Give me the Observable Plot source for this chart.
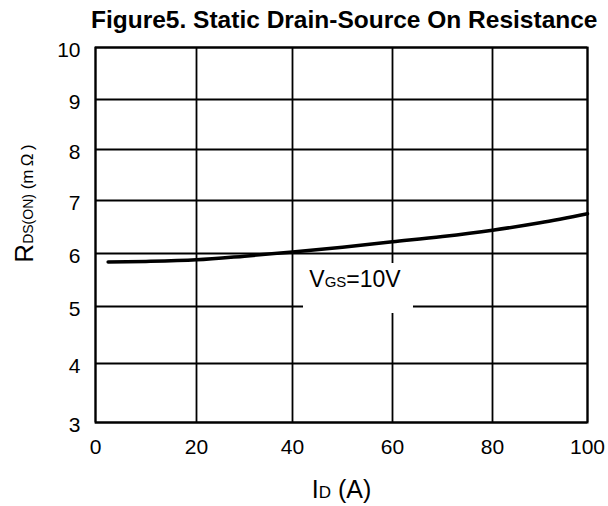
<!DOCTYPE html>
<html><head><meta charset="utf-8">
<script src="https://cdn.jsdelivr.net/npm/d3@7"></script>
<script src="https://cdn.jsdelivr.net/npm/@observablehq/plot@0.6"></script>
<style>body{margin:0;background:#fff;} svg{display:block}</style>
</head><body><div id="chart"></div>
<script>
// ---- data ----
const title = "Figure5. Static Drain-Source On Resistance";
const currentA = [2.5, 10, 20, 30, 40, 50, 60, 70, 80, 90, 100];
const resistanceMOhm = [5.84, 5.85, 5.88, 5.95, 6.03, 6.12, 6.22, 6.32, 6.44, 6.58, 6.75];
const xTicks = [0, 20, 40, 60, 80, 100];
const yTicks = [3, 4, 5, 6, 7, 8, 9, 10];
const xLabelParts = [["I", "main"], ["D", "sub"], [" (A)", "main"]];
const yLabelParts = [["R", "big"], ["DS(ON)", "sub"], [" (m\u2009Ω\u2009)", "unit"]];
const seriesLabelParts = [["V", "main"], ["GS", "sub"], ["=10V", "main"]];
const seriesLabelAt = [{x: 52.5, y: 5.5}];

// ---- styling / layout: the scanned grid is slightly uneven (pixel positions of the grid lines) ----
const xGridPx = [95, 196, 292, 392, 492, 587];
const yGridPx = [422, 363, 306, 253, 200, 149, 99, 47];
const font = "'Liberation Sans', Arial, Helvetica, sans-serif";
const xWarp = d3.scaleLinear().domain(xTicks).range(xGridPx.map(p => (p - 95) / 492 * 100));
const yWarp = d3.scaleLinear().domain(yTicks).range(yGridPx.map(p => 3 + (422 - p) / 375 * 7));

const key = parts => parts.map(p => p[0]).join("");
const xKey = key(xLabelParts), yKey = key(yLabelParts), sKey = key(seriesLabelParts);
const curve = currentA.map((x, i) => ({x, y: resistanceMOhm[i]}));
// white label box (the scan blanks the grid behind the label), built from square symbols offset in pixels
const box = dx => Plot.dot(seriesLabelAt, {x: "x", y: "y", symbol: "square", r: 28.2, fill: "white", stroke: null, dx, dy: 8});

const plot = Plot.plot({
  width: 608, height: 506,
  marginTop: 47, marginBottom: 84, marginLeft: 95, marginRight: 21,
  style: {fontFamily: font, fontSize: "21px", color: "black", background: "white", overflow: "visible"},
  x: {domain: [0, 100], transform: xWarp},
  y: {domain: [3, 10], transform: yWarp},
  marks: [
    Plot.gridX(xTicks, {stroke: "black", strokeOpacity: 1, strokeWidth: 1.8}),
    Plot.gridY(yTicks, {stroke: "black", strokeOpacity: 1, strokeWidth: 1.8}),
    Plot.frame({stroke: "black", strokeWidth: 2}),
    Plot.axisX(xTicks, {tickSize: 0, tickPadding: 17, fontSize: 21, label: null, tickFormat: d => String(d)}),
    Plot.axisY(yTicks, {tickSize: 0, tickPadding: 15, fontSize: 21, dy: 3, label: null, tickFormat: d => String(d)}),
    box(-27), box(3), box(33),
    Plot.text(seriesLabelAt, {x: "x", y: "y", text: () => sKey, fontSize: 23, fill: "black"}),
    Plot.line(curve, {x: "x", y: "y", stroke: "black", strokeWidth: 3.5, curve: "monotone-x"}),
    Plot.text([title], {frameAnchor: "top-right", textAnchor: "end", lineAnchor: "bottom",
      dx: 10, dy: -20, fontSize: 24.5, fontWeight: "bold"}),
    Plot.text([xKey], {frameAnchor: "bottom", lineAnchor: "bottom", dy: 75, fontSize: 25}),
    Plot.text([yKey], {frameAnchor: "left", rotate: -90, textAnchor: "middle", lineAnchor: "bottom",
      dx: -63, dy: -31.5, fontSize: 20})
  ]
});

function richText(svg, k, parts, sizes) {
  d3.select(svg).selectAll("text").filter(function() { return this.textContent === k; }).each(function() {
    const t = d3.select(this);
    t.text(null);
    parts.forEach(([s, kind]) => t.append("tspan").attr("font-size", sizes[kind]).text(s));
  });
}
richText(plot, xKey, xLabelParts, {main: 25, sub: 17});
richText(plot, yKey, yLabelParts, {big: 26, sub: 14, unit: 17});
richText(plot, sKey, seriesLabelParts, {main: 23, sub: 15});

document.getElementById("chart").append(plot);
</script>
</body></html>
